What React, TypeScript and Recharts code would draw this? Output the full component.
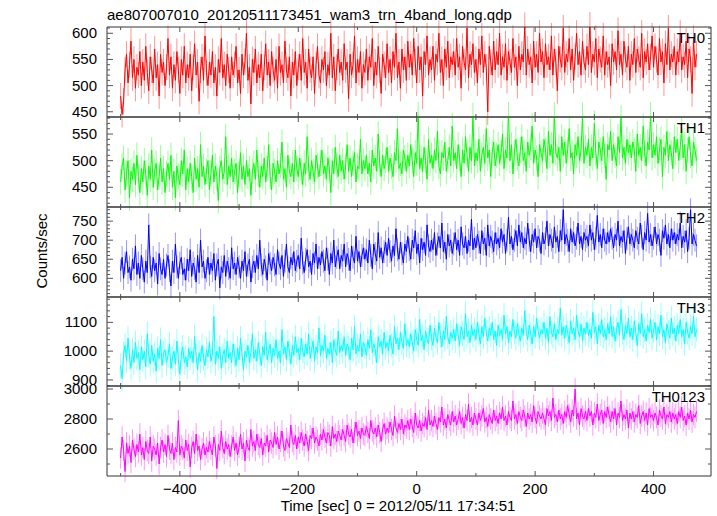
import React from "react";
import { LineChart, Line, XAxis, YAxis, ErrorBar } from "recharts";

// ---- Data (binned light curves, 2.5 s bins starting at t = -500 s) ----
const T_START = -500;
const BIN = 2.5;

const th0 = [
  480, 445, 470, 530, 560, 505, 540, 585, 515, 550, 495, 535, 520, 565, 500,
  545, 510, 575, 525, 490, 555, 530, 505, 570, 515, 540, 480, 560, 525, 545,
  500, 535, 590, 520, 555, 495, 540, 510, 565, 530, 485, 550, 520, 575, 505,
  540, 515, 560, 490, 535, 580, 520, 545, 470, 530, 555, 510, 595, 525, 500,
  545, 520, 565, 505, 535, 480, 550, 525, 590, 515, 540, 500, 560, 530, 495,
  555, 520, 540, 575, 505, 530, 485, 560, 520, 545, 600, 510, 535, 465, 550,
  525, 570, 505, 540, 515, 560, 490, 535, 580, 520, 545, 500, 565, 530, 510,
  550, 495, 575, 525, 540, 505, 585, 530, 515, 555, 480, 545, 520, 565, 500,
  535, 560, 510, 590, 525, 545, 495, 570, 530, 515, 555, 485, 540, 575, 520,
  505, 550, 530, 565, 500, 540, 520, 600, 515, 555, 490, 535, 570, 525, 545,
  510, 580, 530, 545, 475, 560, 520, 540, 595, 505, 550, 525, 565, 495, 540,
  525, 570, 510, 555, 535, 590, 500, 545, 520, 575, 530, 485, 560, 540, 515,
  580, 525, 550, 505, 565, 535, 600, 515, 545, 495, 570, 530, 555, 510, 585,
  535, 560, 520, 590, 545, 505, 575, 530, 555, 480, 565, 540, 595, 520, 550,
  530, 575, 510, 560, 545, 600, 525, 550, 500, 570, 535, 585, 515, 555, 540,
  565, 520, 590, 535, 555, 495, 575, 545, 530, 610, 515, 560, 540, 580, 525,
  550, 505, 570, 540, 595, 525, 560, 535, 450, 575, 545, 520, 585, 530, 565,
  540, 600, 520, 555, 535, 580, 510, 565, 545, 525, 590, 535, 555, 500, 575,
  530, 560, 545, 615, 520, 570, 540, 555, 505, 585, 535, 560, 525, 600, 545,
  565, 515, 580, 540, 555, 530, 595, 520, 570, 545, 490, 575, 550, 535, 610,
  525, 560, 545, 590, 530, 570, 510, 555, 600, 540, 565, 520, 585, 545, 530,
  575, 540, 620, 525, 560, 545, 590, 515, 570, 550, 535, 595, 520, 565, 540,
  555, 500, 580, 545, 565, 530, 605, 540, 560, 520, 585, 550, 535, 575, 510,
  560, 540, 590, 525, 570, 550, 535, 600, 515, 565, 545, 580, 530, 555, 595,
  535, 575, 550, 520, 590, 545, 565, 505, 580, 540, 610, 530, 560, 545, 575,
  520, 565, 545, 600, 530, 555, 540, 585, 515, 570, 550, 485, 590, 535, 560,
];

const th1 = [
  460, 490, 505, 445, 475, 500, 430, 480, 465, 495, 455, 510, 470, 440, 485,
  460, 500, 475, 435, 490, 465, 520, 450, 480, 495, 445, 470, 505, 460, 485,
  440, 475, 495, 465, 510, 450, 480, 430, 490, 470, 455, 500, 475, 520, 445,
  485, 460, 495, 470, 440, 505, 465, 485, 450, 530, 470, 490, 455, 480, 500,
  445, 475, 510, 460, 490, 470, 425, 485, 500, 465, 480, 545, 455, 490, 470,
  505, 460, 480, 495, 440, 475, 515, 465, 490, 455, 500, 470, 485, 435, 480,
  495, 465, 520, 475, 450, 490, 470, 505, 460, 485, 530, 470, 445, 495, 480,
  460, 500, 475, 490, 535, 465, 485, 450, 510, 480, 470, 495, 460, 520, 485,
  470, 505, 480, 455, 495, 475, 545, 485, 465, 500, 480, 460, 510, 490, 470,
  495, 520, 475, 490, 465, 505, 485, 440, 500, 475, 525, 490, 470, 510, 480,
  500, 465, 490, 530, 480, 505, 470, 495, 515, 460, 490, 485, 540, 475, 500,
  485, 510, 475, 495, 460, 520, 490, 505, 480, 550, 495, 470, 510, 485, 500,
  525, 480, 505, 490, 470, 515, 500, 560, 485, 495, 475, 520, 505, 480, 510,
  490, 530, 500, 470, 515, 495, 590, 485, 505, 480, 525, 500, 465, 540, 495,
  510, 485, 520, 500, 555, 490, 475, 515, 505, 535, 480, 500, 525, 490, 565,
  500, 515, 485, 530, 505, 470, 520, 495, 545, 510, 480, 525, 500, 585, 490,
  515, 500, 540, 480, 510, 525, 495, 560, 505, 520, 470, 515, 535, 490, 510,
  530, 495, 515, 550, 485, 520, 505, 595, 500, 530, 475, 515, 540, 505, 490,
  520, 545, 500, 515, 480, 535, 510, 525, 565, 495, 520, 505, 470, 530, 515,
  500, 540, 520, 485, 555, 510, 530, 495, 590, 515, 505, 525, 480, 545, 510,
  535, 495, 520, 560, 505, 515, 475, 530, 510, 545, 500, 520, 585, 495, 525,
  510, 540, 490, 525, 505, 570, 515, 485, 535, 520, 500, 545, 510, 465, 530,
  520, 555, 500, 530, 510, 490, 545, 515, 580, 505, 525, 495, 540, 515, 530,
  505, 535, 520, 480, 550, 510, 525, 500, 565, 515, 490, 535, 520, 590, 505,
  530, 510, 545, 495, 520, 540, 470, 525, 510, 555, 500, 530, 515, 485, 545,
  515, 540, 500, 525, 560, 505, 530, 480, 520, 545, 510, 490, 535, 520, 500,
];

const th2 = [
  620, 655, 600, 640, 670, 615, 630, 595, 650, 625, 685, 610, 640, 600, 660,
  625, 590, 645, 615, 740, 630, 605, 655, 620, 640, 585, 665, 625, 610, 650,
  600, 635, 660, 620, 580, 645, 615, 690, 630, 600, 640, 655, 610, 625, 595,
  650, 620, 675, 605, 640, 625, 590, 660, 615, 700, 630, 645, 600, 620, 655,
  610, 640, 620, 665, 595, 635, 650, 575, 630, 615, 660, 605, 645, 625, 600,
  680, 625, 640, 610, 655, 630, 600, 645, 620, 670, 605, 635, 650, 590, 630,
  645, 615, 660, 625, 700, 635, 610, 650, 630, 595, 665, 640, 620, 655, 635,
  610, 675, 640, 625, 660, 605, 645, 690, 630, 615, 655, 635, 670, 620, 645,
  660, 625, 705, 640, 615, 650, 675, 630, 645, 610, 665, 640, 690, 625, 655,
  635, 670, 645, 620, 680, 650, 610, 665, 640, 700, 630, 655, 675, 625, 660,
  645, 690, 630, 665, 650, 620, 685, 655, 640, 710, 645, 670, 630, 660, 680,
  650, 675, 640, 700, 660, 625, 690, 665, 645, 720, 655, 680, 640, 670, 695,
  660, 705, 670, 645, 685, 660, 730, 675, 650, 695, 665, 640, 690, 670, 710,
  675, 650, 700, 680, 725, 665, 690, 640, 705, 675, 695, 660, 740, 685, 670,
  700, 675, 720, 660, 690, 710, 680, 745, 670, 695, 650, 715, 685, 700, 665,
  690, 720, 675, 700, 660, 735, 690, 680, 710, 665, 700, 685, 755, 675, 705,
  680, 715, 695, 665, 725, 690, 705, 660, 740, 685, 710, 695, 670, 720, 690,
  705, 680, 730, 695, 715, 665, 700, 760, 690, 710, 675, 700, 725, 685, 740,
  695, 720, 680, 705, 690, 745, 700, 670, 715, 695, 730, 680, 710, 700, 665,
  720, 690, 705, 750, 685, 715, 700, 680, 735, 695, 710, 670, 725, 700, 780,
  690, 715, 700, 670, 730, 695, 720, 685, 705, 745, 690, 710, 675, 720, 700,
  710, 685, 740, 700, 720, 675, 705, 765, 695, 715, 680, 730, 700, 690, 720,
  695, 730, 705, 680, 715, 700, 750, 685, 710, 695, 725, 665, 705, 735, 690,
  715, 700, 680, 725, 705, 690, 745, 710, 675, 720, 700, 770, 695, 715, 685,
  705, 735, 690, 715, 700, 660, 725, 705, 740, 690, 715, 680, 730, 700, 720,
  690, 715, 700, 745, 680, 710, 695, 725, 670, 705, 780, 690, 715, 700, 685,
];

const th3 = [
  950, 905, 990, 1020, 965, 1045, 980, 940, 1005, 960, 1030, 975, 995, 935, 1015,
  970, 1000, 945, 1060, 985, 955, 1020, 965, 990, 930, 1010, 975, 1040, 950, 995,
  1005, 960, 985, 1025, 940, 975, 1000, 955, 1035, 970, 920, 990, 1015, 960, 980,
  945, 1010, 975, 1000, 960, 1050, 985, 935, 995, 965, 1020, 975, 950, 1005, 980,
  1030, 965, 990, 1120, 955, 1000, 975, 1015, 940, 985, 1005, 960, 1035, 975, 995,
  960, 1025, 985, 950, 1010, 970, 1045, 990, 935, 1000, 980, 1020, 960, 995, 1060,
  975, 1005, 965, 1030, 990, 950, 1015, 985, 1065, 970, 1000, 1025, 960, 1010, 985,
  1040, 975, 1000, 960, 1075, 990, 1015, 970, 1035, 1000, 955, 1020, 985, 1050, 995,
  1010, 970, 1045, 1000, 980, 1025, 990, 1060, 975, 1005, 1035, 965, 1015, 995, 1080,
  985, 1020, 1000, 1055, 975, 1010, 990, 1030, 960, 1040, 1005, 985, 1070, 995, 1020,
  1000, 1050, 985, 1025, 1010, 970, 1045, 1005, 1085, 990, 1020, 1000, 1060, 980, 1030,
  1015, 985, 1040, 1010, 1075, 995, 1025, 1005, 960, 1050, 1015, 1035, 990, 1065, 1010,
  1030, 1000, 1055, 1020, 990, 1085, 1025, 1045, 1005, 1065, 1030, 1010, 1095, 1020, 1040,
  1015, 1060, 1030, 1000, 1075, 1040, 1020, 1110, 1035, 1055, 1005, 1070, 1040, 1025, 1090,
  1045, 1020, 1080, 1050, 1030, 1100, 1055, 1015, 1070, 1040, 1120, 1050, 1025, 1065, 1045,
  1075, 1035, 1095, 1055, 1020, 1085, 1060, 1040, 1130, 1050, 1070, 1030, 1090, 1055, 1075,
  1040, 1100, 1060, 1025, 1085, 1050, 1115, 1065, 1035, 1080, 1055, 1100, 1040, 1070, 1020,
  1090, 1055, 1075, 1040, 1125, 1060, 1085, 1030, 1070, 1050, 1110, 1065, 1045, 1095, 1060,
  1035, 1080, 1055, 1140, 1065, 1040, 1090, 1060, 1025, 1085, 1050, 1115, 1070, 1045, 1075,
  1060, 1100, 1045, 1080, 1030, 1120, 1065, 1050, 1095, 1040, 1075, 1060, 1150, 1055, 1085,
  1045, 1090, 1065, 1030, 1105, 1060, 1080, 1040, 1125, 1070, 1050, 1095, 1035, 1080, 1060,
  1100, 1055, 1075, 1045, 1135, 1065, 1085, 1025, 1090, 1060, 1110, 1050, 1075, 1040, 1095,
  1060, 1120, 1050, 1085, 1035, 1075, 1100, 1055, 1145, 1065, 1040, 1090, 1060, 1115, 1050,
  1080, 1040, 1105, 1065, 1020, 1095, 1060, 1130, 1050, 1075, 1035, 1090, 1065, 1110, 1045,
  1070, 1100, 1040, 1085, 1060, 1125, 1050, 1075, 1030, 1095, 1065, 1045, 1115, 1060, 1080,
  1035, 1090, 1060, 1110, 1050, 1075, 1025, 1100, 1065, 1045, 1085, 1060, 1120, 1050, 1075,
];

const th0123 = [
  2540, 2680, 2590, 2450, 2640, 2570, 2620, 2510, 2660, 2600, 2550, 2630, 2580, 2700, 2560,
  2610, 2530, 2650, 2590, 2570, 2680, 2520, 2620, 2600, 2560, 2640, 2500, 2610, 2660, 2580,
  2630, 2550, 2690, 2600, 2570, 2640, 2530, 2610, 2580, 2790, 2560, 2620, 2600, 2540, 2660,
  2590, 2630, 2480, 2610, 2650, 2570, 2700, 2590, 2620, 2530, 2600, 2640, 2560, 2610, 2580,
  2650, 2600, 2560, 2680, 2620, 2470, 2630, 2590, 2720, 2610, 2570, 2650, 2600, 2630, 2550,
  2620, 2680, 2590, 2640, 2560, 2610, 2700, 2600, 2640, 2520, 2660, 2610, 2590, 2730, 2620,
  2650, 2590, 2700, 2630, 2610, 2670, 2560, 2640, 2620, 2690, 2580, 2660, 2640, 2610, 2710,
  2630, 2680, 2600, 2650, 2720, 2620, 2590, 2670, 2640, 2610, 2760, 2650, 2630, 2690, 2600,
  2680, 2640, 2710, 2660, 2620, 2700, 2650, 2590, 2690, 2670, 2740, 2640, 2680, 2660, 2620,
  2700, 2660, 2730, 2680, 2640, 2710, 2690, 2620, 2750, 2670, 2700, 2650, 2720, 2690, 2660,
  2730, 2690, 2650, 2760, 2700, 2680, 2730, 2640, 2710, 2780, 2690, 2720, 2670, 2740, 2700,
  2690, 2750, 2710, 2670, 2790, 2720, 2700, 2740, 2680, 2760, 2710, 2650, 2730, 2770, 2700,
  2740, 2710, 2780, 2730, 2690, 2820, 2740, 2710, 2770, 2730, 2800, 2700, 2760, 2740, 2790,
  2730, 2800, 2750, 2710, 2840, 2760, 2740, 2790, 2720, 2770, 2750, 2810, 2730, 2860, 2760,
  2790, 2750, 2820, 2770, 2730, 2810, 2780, 2880, 2760, 2800, 2740, 2830, 2790, 2760, 2850,
  2780, 2820, 2760, 2800, 2850, 2770, 2810, 2740, 2830, 2790, 2900, 2780, 2810, 2760, 2840,
  2800, 2760, 2840, 2790, 2820, 2870, 2780, 2810, 2750, 2830, 2800, 2770, 2860, 2790, 2820,
  2770, 2840, 2800, 2880, 2790, 2820, 2760, 2850, 2810, 2790, 2920, 2800, 2830, 2770, 2850,
  2810, 2790, 2860, 2820, 2750, 2840, 2800, 2830, 2780, 2890, 2810, 2770, 2850, 2820, 2800,
  2840, 2800, 2760, 2870, 2820, 2850, 2790, 2940, 2810, 2830, 2780, 2860, 2800, 2830, 2770,
  2850, 2810, 2890, 2830, 2780, 2860, 2820, 3000, 2800, 2840, 2760, 2870, 2820, 2800, 2850,
  2790, 2870, 2820, 2850, 2760, 2840, 2810, 2900, 2790, 2830, 2860, 2770, 2850, 2810, 2880,
  2820, 2780, 2850, 2800, 2870, 2760, 2840, 2810, 2920, 2790, 2830, 2800, 2860, 2740, 2840,
  2800, 2850, 2780, 2830, 2810, 2890, 2770, 2820, 2850, 2790, 2840, 2760, 2870, 2810, 2830,
  2790, 2840, 2810, 2760, 2860, 2820, 2800, 2880, 2770, 2830, 2810, 2850, 2780, 2840, 2800,
  2830, 2770, 2850, 2810, 2880, 2790, 2820, 2760, 2840, 2800, 2860, 2780, 2830, 2810, 2850,
];

// Typical 1-sigma error bar sizes (counts/sec)
const th0Err = 25;
const th1Err = 24;
const th2Err = 30;
const th3Err = 42;
const th0123Err = 72;

// Tick labels
const xMajorTicks = [-400, -200, 0, 200, 400];
const xAllTicks = [-500, -400, -300, -200, -100, 0, 100, 200, 300, 400];
const th0Major = [450, 500, 550, 600];
const th1Major = [450, 500, 550];
const th2Major = [600, 650, 700, 750];
const th3Major = [900, 1000, 1100];
const th0123Major = [2600, 2800, 3000];

const data = th0.map((v, i) => ({
  t: T_START + i * BIN,
  th0: v,
  th1: th1[i],
  th2: th2[i],
  th3: th3[i],
  th0123: th0123[i],
  th0e: th0Err,
  th1e: th1Err,
  th2e: th2Err,
  th3e: th3Err,
  th0123e: th0123Err,
}));

const range = (a: number, b: number, s: number) => {
  const out: number[] = [];
  for (let v = a; v <= b + 1e-9; v += s) out.push(v);
  return out;
};

const FONT = "'Liberation Sans', Arial, Helvetica, sans-serif";
const FRAME = "#333";
const TICK = "#555";
const X_DOMAIN: [number, number] = [-523, 497];

const fmt = (v: number) => (v < 0 ? "\u2212" + String(-v) : String(v));

const makeXTick = (dir: number, showLabel: boolean) => (props: any) => {
  const { x, y, payload } = props;
  const v = payload.value as number;
  const major = xMajorTicks.includes(v);
  const len = major ? 5 : 3;
  return (
    <g>
      <line x1={x} x2={x} y1={y} y2={y + dir * len} stroke={TICK} strokeWidth={1} />
      {showLabel && major ? (
        <text x={x} y={y + 18} textAnchor="middle" fontSize={15} fontFamily={FONT} fill="#000">
          {fmt(v)}
        </text>
      ) : null}
    </g>
  );
};

const makeYTick = (side: "l" | "r", majors: number[]) => (props: any) => {
  const { x, y, payload } = props;
  const v = payload.value as number;
  const major = majors.includes(v);
  const len = major ? 6 : 3;
  const dir = side === "l" ? 1 : -1;
  return (
    <g>
      <line x1={x} x2={x + dir * len} y1={y} y2={y} stroke={TICK} strokeWidth={1} />
      {side === "l" && major ? (
        <text x={x - 10} y={y + 5} textAnchor="end" fontSize={15} fontFamily={FONT} fill="#000">
          {fmt(v)}
        </text>
      ) : null}
    </g>
  );
};

type PanelCfg = {
  key: string;
  errKey: string;
  label: string;
  color: string;
  errColor: string;
  top: number;
  bottom: number;
  domain: [number, number];
  minorStep: number;
  majors: number[];
};

const panels: PanelCfg[] = [
  { key: "th0", errKey: "th0e", label: "TH0", color: "#ff0000", errColor: "rgba(255,0,0,0.42)", top: 27, bottom: 117, domain: [440, 612], minorStep: 10, majors: th0Major },
  { key: "th1", errKey: "th1e", label: "TH1", color: "#00ff00", errColor: "rgba(0,255,0,0.42)", top: 117, bottom: 207, domain: [413, 582], minorStep: 10, majors: th1Major },
  { key: "th2", errKey: "th2e", label: "TH2", color: "#0000ff", errColor: "rgba(0,0,255,0.42)", top: 207, bottom: 297, domain: [551, 787], minorStep: 10, majors: th2Major },
  { key: "th3", errKey: "th3e", label: "TH3", color: "#00ffff", errColor: "rgba(0,255,255,0.42)", top: 297, bottom: 386, domain: [879, 1188], minorStep: 20, majors: th3Major },
  { key: "th0123", errKey: "th0123e", label: "TH0123", color: "#ff00ff", errColor: "rgba(255,0,255,0.42)", top: 386, bottom: 476, domain: [2420, 3020], minorStep: 100, majors: th0123Major },
];

const Panel = ({ p, last }: { p: PanelCfg; last: boolean }) => {
  const mt = 14;
  const mb = last ? 30 : 14;
  const h = p.bottom - p.top;
  const first = Math.ceil(p.domain[0] / p.minorStep) * p.minorStep;
  const yTicks = range(first, p.domain[1], p.minorStep);
  return (
    <div style={{ position: "absolute", left: 0, top: p.top - mt - 1 }}>
      <LineChart
        width={717}
        height={h + mt + mb + 2}
        data={data}
        margin={{ top: mt, right: 5, bottom: mb, left: 0 }}
      >
        <XAxis
          xAxisId="b"
          dataKey="t"
          type="number"
          domain={X_DOMAIN}
          allowDataOverflow
          ticks={xAllTicks}
          interval={0}
          orientation="bottom"
          height={1}
          tickSize={0}
          tickMargin={0}
          tickLine={false}
          axisLine={{ stroke: FRAME, strokeWidth: 1 }}
          tick={makeXTick(-1, last)}
        />
        <XAxis
          xAxisId="t"
          dataKey="t"
          type="number"
          domain={X_DOMAIN}
          allowDataOverflow
          ticks={xAllTicks}
          interval={0}
          orientation="top"
          height={1}
          tickSize={0}
          tickMargin={0}
          tickLine={false}
          axisLine={{ stroke: FRAME, strokeWidth: 1 }}
          tick={makeXTick(1, false)}
        />
        <YAxis
          yAxisId="l"
          type="number"
          domain={p.domain}
          allowDataOverflow
          ticks={yTicks}
          interval={0}
          orientation="left"
          width={107}
          tickSize={0}
          tickMargin={0}
          tickLine={false}
          axisLine={{ stroke: FRAME, strokeWidth: 1 }}
          tick={makeYTick("l", p.majors)}
        />
        <YAxis
          yAxisId="r"
          type="number"
          domain={p.domain}
          allowDataOverflow
          ticks={yTicks}
          interval={0}
          orientation="right"
          width={1}
          tickSize={0}
          tickMargin={0}
          tickLine={false}
          axisLine={{ stroke: FRAME, strokeWidth: 1 }}
          tick={makeYTick("r", p.majors)}
        />
        <Line
          xAxisId="b"
          yAxisId="l"
          type="linear"
          dataKey={p.key}
          stroke={p.color}
          strokeWidth={1}
          dot={false}
          activeDot={false}
          isAnimationActive={false}
        >
          <ErrorBar dataKey={p.errKey} direction="y" width={0} stroke={p.errColor} strokeWidth={1} isAnimationActive={false} />
        </Line>
      </LineChart>
    </div>
  );
};

export default function App() {
  return (
    <div style={{ position: "absolute", left: 0, top: 0, width: 717, height: 516, background: "#fff", fontFamily: FONT }}>
      {panels.map((p, i) => (
        <Panel key={p.key} p={p} last={i === panels.length - 1} />
      ))}
      <svg width={717} height={516} style={{ position: "absolute", left: 0, top: 0, pointerEvents: "none" }}>
        <text x={107} y={20} fontSize={15} fontFamily={FONT} fill="#000">
          ae807007010_20120511173451_wam3_trn_4band_long.qdp
        </text>
        {panels.map((p) => (
          <text key={p.key} x={705} y={p.top + 16} textAnchor="end" fontSize={15} fontFamily={FONT} fill="#000">
            {p.label}
          </text>
        ))}
        <text x={47} y={251} textAnchor="middle" fontSize={15} fontFamily={FONT} fill="#000" transform="rotate(-90 47 251)">
          Counts/sec
        </text>
        <text x={398} y={511} textAnchor="middle" fontSize={15} fontFamily={FONT} fill="#000">
          Time [sec] 0 = 2012/05/11 17:34:51
        </text>
      </svg>
    </div>
  );
}
